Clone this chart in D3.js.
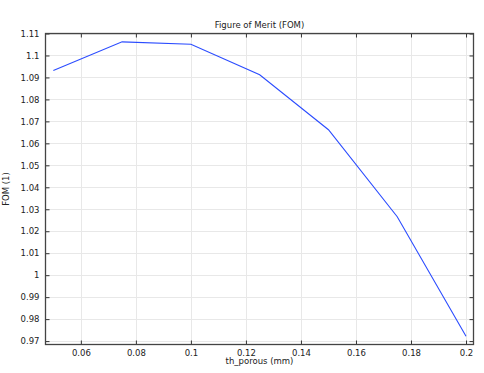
<!DOCTYPE html>
<html>
<head>
<meta charset="utf-8">
<script src="https://cdn.jsdelivr.net/npm/d3@7"></script>
<style>
  body { margin: 0; background: #fff; }
  svg { display: block; font-family: "DejaVu Sans", sans-serif; }
  .grid line { stroke: #e8e8e8; stroke-width: 1; }
  .tick-label { font-size: 8.5px; fill: #222; }
</style>
</head>
<body>
<div class="content"></div>
<script>
// данные: толщина пористого слоя и FOM
var thPorous = [0.05, 0.075, 0.1, 0.125, 0.15, 0.175, 0.2];
var fom = [1.0932, 1.1062, 1.1051, 1.0912, 1.0662, 1.0266, 0.9722];

// подписи делений
var xTicks = [0.06, 0.08, 0.1, 0.12, 0.14, 0.16, 0.18, 0.2];
var yTicks = [0.97, 0.98, 0.99, 1, 1.01, 1.02, 1.03, 1.04, 1.05, 1.06, 1.07, 1.08, 1.09, 1.1, 1.11];

// размеры картинки и границы области графика
var w = 484,
    h = 373;
var plotL = 45.5, plotR = 473.5, plotT = 33.5, plotB = 344.5;

var svg = d3.select('.content').append('svg')
    .attr('width', w)
    .attr('height', h);

var x = d3.scaleLinear()
    .domain([0.04715, 0.20272])
    .range([plotL, plotR]);

var y = d3.scaleLinear()
    .domain([0.96845, 1.11])
    .range([plotB, plotT]);

// сетка
var grid = svg.append('g').attr('class', 'grid');
grid.selectAll('line.gx')
    .data(xTicks)
    .enter().append('line')
    .attr('x1', function(d) { return Math.round(x(d)) + 0.5; })
    .attr('x2', function(d) { return Math.round(x(d)) + 0.5; })
    .attr('y1', plotT).attr('y2', plotB);
grid.selectAll('line.gy')
    .data(yTicks)
    .enter().append('line')
    .attr('y1', function(d) { return Math.round(y(d)) + 0.5; })
    .attr('y2', function(d) { return Math.round(y(d)) + 0.5; })
    .attr('x1', plotL).attr('x2', plotR);

// оси: деления внутрь, с четырёх сторон
var fmt = function(d) { return d3.format('~g')(d); };
var tickLen = 4;

function styleAxis(g) {
    g.select('.domain').remove();
    g.selectAll('.tick line').attr('stroke', '#333');
    g.selectAll('.tick text').attr('class', 'tick-label').attr('fill', null);
    g.attr('font-size', null).attr('font-family', null);
}

svg.append('g')
    .attr('transform', 'translate(0,' + plotB + ')')
    .call(d3.axisBottom(x).tickValues(xTicks).tickFormat(fmt).tickSizeInner(-tickLen).tickSizeOuter(0).tickPadding(5))
    .call(styleAxis);

svg.append('g')
    .attr('transform', 'translate(0,' + plotT + ')')
    .call(d3.axisTop(x).tickValues(xTicks).tickFormat('').tickSizeInner(-tickLen).tickSizeOuter(0))
    .call(styleAxis);

svg.append('g')
    .attr('transform', 'translate(' + plotL + ',0)')
    .call(d3.axisLeft(y).tickValues(yTicks).tickFormat(fmt).tickSizeInner(-tickLen).tickSizeOuter(0).tickPadding(6))
    .call(styleAxis);

svg.append('g')
    .attr('transform', 'translate(' + plotR + ',0)')
    .call(d3.axisRight(y).tickValues(yTicks).tickFormat('').tickSizeInner(-tickLen).tickSizeOuter(0))
    .call(styleAxis);

// рамка
svg.append('rect')
    .attr('x', plotL).attr('y', plotT)
    .attr('width', plotR - plotL).attr('height', plotB - plotT)
    .attr('fill', 'none')
    .attr('stroke', '#444')
    .attr('stroke-width', 1.3);

// линия
var line = d3.line()
    .x(function(d, i) { return x(thPorous[i]); })
    .y(function(d) { return y(d); });

svg.append('path')
    .datum(fom)
    .attr('d', line)
    .attr('fill', 'none')
    .attr('stroke', '#2b4cff')
    .attr('stroke-width', 1.1);

// заголовок и подписи осей
svg.append('text')
    .attr('x', (plotL + plotR) / 2)
    .attr('y', 28)
    .attr('text-anchor', 'middle')
    .attr('font-size', '8.5px')
    .attr('fill', '#222')
    .text('Figure of Merit (FOM)');

svg.append('text')
    .attr('x', (plotL + plotR) / 2)
    .attr('y', 364)
    .attr('text-anchor', 'middle')
    .attr('font-size', '8.5px')
    .attr('fill', '#222')
    .text('th_porous (mm)');

svg.append('text')
    .attr('transform', 'translate(9,' + ((plotT + plotB) / 2) + ') rotate(-90)')
    .attr('text-anchor', 'middle')
    .attr('font-size', '8.5px')
    .attr('fill', '#222')
    .text('FOM (1)');
</script>
</body>
</html>
